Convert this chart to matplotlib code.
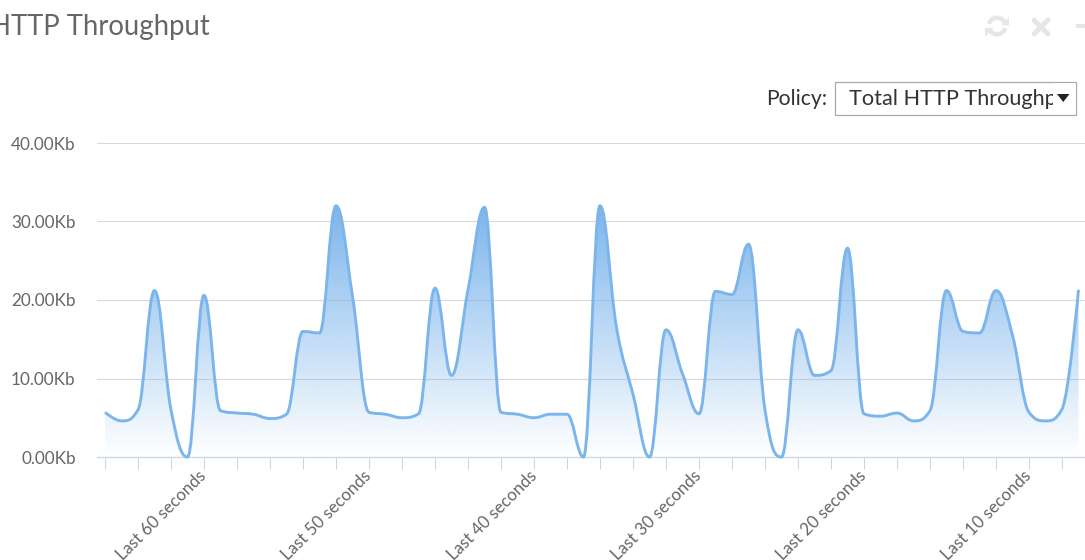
import numpy as np
import matplotlib
matplotlib.use("Agg")
import matplotlib.pyplot as plt
from matplotlib.path import Path
from matplotlib.patches import PathPatch, Rectangle, Polygon, Arc
from matplotlib.lines import Line2D

plt.rcParams['font.family'] = ['Lato', 'DejaVu Sans']

# HTTP throughput in Kb, one sample per second (oldest first)
throughput = [5.7, 4.6, 6.0, 21.2, 6.0, 0.0, 20.6, 5.9, 5.6, 5.45,
              4.9, 5.45, 16.0, 15.8, 32.0, 20.5, 5.7, 5.45, 5.0, 5.5,
              21.5, 10.4, 21.3, 31.8, 5.7, 5.45, 5.0, 5.45, 5.45, 0.0,
              32.0, 16.5, 8.0, 0.0, 16.2, 10.6, 5.5, 21.1, 20.7, 27.1,
              6.0, 0.0, 16.2, 10.4, 11.0, 26.6, 5.5, 5.2, 5.6, 4.6,
              5.9, 21.2, 16.0, 15.8, 21.2, 15.5, 5.7, 4.6, 6.1, 21.3]
label_pos = [6, 16, 26, 36, 46, 56]
label_text = ["Last 60 seconds", "Last 50 seconds", "Last 40 seconds",
              "Last 30 seconds", "Last 20 seconds", "Last 10 seconds"]
y_ticks = [0, 10, 20, 30, 40]
y_labels = ["0.00Kb", "10.00Kb", "20.00Kb", "30.00Kb", "40.00Kb"]

LINE = "#7cb5ec"
W, H = 1085, 560


def fx(x):
    return x / W


def fy(y):
    return 1 - y / H


def spline_verts(xs, ys, smoothing=1.5):
    # bezier control points the way highcharts builds its "spline" series
    n = len(xs)
    left = [(x, y) for x, y in zip(xs, ys)]
    right = list(left)
    denom = smoothing + 1
    for i in range(1, n - 1):
        lx, ly = xs[i - 1], ys[i - 1]
        px, py = xs[i], ys[i]
        nx, ny = xs[i + 1], ys[i + 1]
        lcx = (smoothing * px + lx) / denom
        lcy = (smoothing * py + ly) / denom
        rcx = (smoothing * px + nx) / denom
        rcy = (smoothing * py + ny) / denom
        if rcx != lcx:
            corr = (rcy - lcy) * (rcx - px) / (rcx - lcx) + py - rcy
            lcy += corr
            rcy += corr
        if lcy > ly and lcy > py:
            lcy = max(ly, py)
            rcy = 2 * py - lcy
        elif lcy < ly and lcy < py:
            lcy = min(ly, py)
            rcy = 2 * py - lcy
        if rcy > ny and rcy > py:
            rcy = max(ny, py)
            lcy = 2 * py - rcy
        elif rcy < ny and rcy < py:
            rcy = min(ny, py)
            lcy = 2 * py - rcy
        left[i] = (lcx, lcy)
        right[i] = (rcx, rcy)
    verts = [(xs[0], ys[0])]
    codes = [Path.MOVETO]
    for i in range(1, n):
        verts += [right[i - 1], left[i], (xs[i], ys[i])]
        codes += [Path.CURVE4] * 3
    return verts, codes


fig = plt.figure(figsize=(W / 100, H / 100), dpi=100)
ax = fig.add_axes([fx(96.5), fy(457), 1 - fx(96.5), 314 / H])

x = np.arange(len(throughput))
verts, codes = spline_verts(list(x), throughput)

# gradient area under the curve
area_verts = verts + [(x[-1], 0), (x[0], 0), (x[0], throughput[0])]
area_codes = codes + [Path.LINETO, Path.LINETO, Path.CLOSEPOLY]
area = PathPatch(Path(area_verts, area_codes), facecolor="none",
                 edgecolor="none")
ax.add_patch(area)
grad = np.zeros((256, 1, 4))
grad[..., 0] = 124 / 255
grad[..., 1] = 181 / 255
grad[..., 2] = 236 / 255
grad[:, 0, 3] = np.linspace(0, 1, 256)
img = ax.imshow(grad, extent=[x[0], x[-1], 0, max(throughput)],
                origin="lower", aspect="auto", zorder=1)
img.set_clip_path(area)

line = PathPatch(Path(verts, codes), facecolor="none", edgecolor=LINE,
                 linewidth=2.1, zorder=3, clip_on=False)
ax.add_patch(line)

ax.set_xlim((96.5 - 105) / 16.5, (W - 105) / 16.5)
ax.set_ylim(0, 40)

ax.set_yticks(y_ticks)
ax.set_yticklabels(y_labels)
ax.yaxis.grid(True, color="#d9d9d9", linewidth=0.8)
ax.set_axisbelow(True)
ax.tick_params(axis="y", length=0, pad=15, labelsize=12.3,
               labelcolor="#666666")

ticks = list(range(0, len(throughput), 2))
ax.set_xticks(ticks)
ax.set_xticklabels([label_text[label_pos.index(t)] if t in label_pos else ""
                    for t in ticks])
ax.tick_params(axis="x", direction="out", length=8.6, width=0.75,
               color="#ccd6eb", pad=3, labelsize=12.2, labelcolor="#666666")
for lbl in ax.get_xticklabels():
    lbl.set_rotation(45)
    lbl.set_ha("right")
    lbl.set_va("center")
    lbl.set_rotation_mode("anchor")

for side in ["top", "right", "left"]:
    ax.spines[side].set_visible(False)
ax.spines["bottom"].set_color("#ccd6eb")
ax.spines["bottom"].set_linewidth(0.9)
ax.spines["bottom"].set_zorder(2)

# header
fig.text(fx(-10), fy(27), "HTTP Throughput", fontsize=19.8, color="#666666",
         va="center", ha="left")

# policy selector
fig.text(fx(827), fy(99), "Policy:", fontsize=15.2, color="#333333",
         va="center", ha="right")
fig.patches.append(Rectangle((fx(834.5), fy(114.5)), fx(1076) - fx(834.5),
                             fy(81.5) - fy(114.5), transform=fig.transFigure,
                             facecolor="white", edgecolor="#a9a9a9",
                             linewidth=0.9, zorder=1))
fig.text(fx(849), fy(99), "Total HTTP Throughput", fontsize=15.6,
         color="#333333", va="center", ha="left", zorder=3)
# the selector cuts the long option name short before the arrow
fig.patches.append(Rectangle((fx(1053), fy(113)), fx(22.5), 30 / H,
                             transform=fig.transFigure, facecolor="white",
                             edgecolor="none", zorder=4))
fig.patches.append(Polygon([(fx(1057), fy(94)), (fx(1069.5), fy(94)),
                            (fx(1063.25), fy(102))], closed=True,
                           transform=fig.transFigure, facecolor="#222222",
                           edgecolor="none", zorder=5))

# panel buttons: refresh, close, minimise
ICON = "#e6e6e6"
icon_ax = fig.add_axes([fx(985), fy(38), fx(24), 24 / H])
icon_ax.set_xlim(-1.3, 1.3)
icon_ax.set_ylim(-1.3, 1.3)
icon_ax.axis("off")
icon_ax.add_patch(Arc((0, 0), 1.8, 1.8, theta1=20, theta2=165,
                      color=ICON, linewidth=3.2))
icon_ax.add_patch(Arc((0, 0), 1.8, 1.8, theta1=200, theta2=345,
                      color=ICON, linewidth=3.2))
icon_ax.add_patch(Polygon([(0.55, 0.2), (1.25, 0.2), (1.25, 0.95)],
                          closed=True, color=ICON))
icon_ax.add_patch(Polygon([(-0.55, -0.2), (-1.25, -0.2), (-1.25, -0.95)],
                          closed=True, color=ICON))
for (x0, y0, x1, y1) in [(1034, 20, 1048, 34), (1034, 34, 1048, 20)]:
    fig.add_artist(Line2D([fx(x0), fx(x1)], [fy(y0), fy(y1)],
                          transform=fig.transFigure, color=ICON,
                          linewidth=3.6, solid_capstyle="round"))
fig.patches.append(Rectangle((fx(1076), fy(28)), fx(10), 4 / H,
                             transform=fig.transFigure, facecolor=ICON,
                             edgecolor="none"))

fig.savefig("out.png", dpi=100)
